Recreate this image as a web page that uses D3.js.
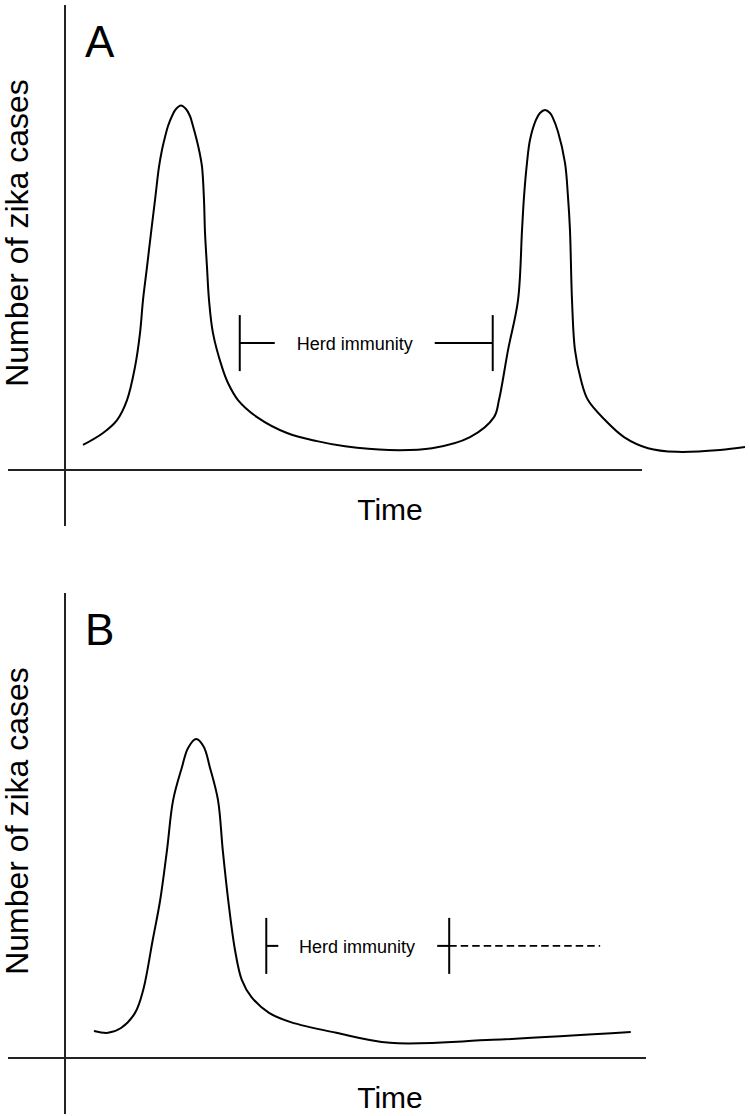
<!DOCTYPE html>
<html>
<head>
<meta charset="utf-8">
<script src="https://cdn.jsdelivr.net/npm/d3@7"></script>
<style>
  html, body { margin: 0; padding: 0; background: #fff; }
  svg { display: block; }
  text { font-family: "Liberation Sans", Arial, sans-serif; fill: #000; }
</style>
</head>
<body>
<script>
// ---- Data (time units 0..100, cases in arbitrary units 0..100) ----
const timeA  = [2.65, 5.59, 7.65, 9.12, 10.29, 11.03, 11.47, 12.06, 12.65, 13.24, 13.82, 14.26, 14.71, 15.15, 15.74, 16.32, 17.06,
                17.79, 18.38, 18.82, 19.26, 19.71, 20.15, 20.44, 20.59, 20.88, 21.18, 21.76, 23.09, 23.97, 25.44, 28.24, 32.65, 37.06,
                41.18, 47.65, 53.97, 59.56, 63.09, 63.82, 65.15, 66.62, 67.21, 67.50, 67.94, 68.38, 69.26, 69.85, 70.59,
                71.32, 71.76, 72.50, 73.53, 73.97, 74.26, 74.56, 75.0, 75.88, 76.91, 79.41, 82.21, 85.74, 90.0, 96.32, 100];
const casesA = [6.76, 10.0, 13.5, 18.9, 27.8, 37.0, 45.9, 54.9, 64.1, 73.0, 81.9, 86.5, 90.0, 92.97, 95.68, 97.57, 98.51,
                97.57, 95.68, 92.97, 90.0, 86.5, 81.9, 73.0, 64.1, 54.9, 45.9, 37.0, 27.8, 23.5, 18.9, 14.3, 10.0, 7.8,
                6.4, 5.4, 5.9, 8.9, 14.3, 18.9, 32.4, 45.9, 64.9, 73.8, 83.0, 89.2, 94.6, 96.5, 97.3,
                96.5, 95.1, 91.4, 83.0, 73.8, 64.9, 45.9, 32.4, 24.3, 18.9, 13.5, 8.9, 5.9, 4.9, 5.4, 6.2];

const timeB  = [4.26, 6.32, 8.24, 10.3, 11.5, 12.9, 14.0, 15.0, 15.9, 17.2, 18.1, 19.3, 20.4, 21.3, 22.5, 23.2, 24.0, 25.0, 26.0, 27.4, 30.0, 33.2, 39.9, 47.8, 62.9, 83.2];
const casesB = [7.3, 6.8, 8.1, 12.2, 18.4, 31.9, 42.7, 56.2, 69.7, 78.6, 83.8, 86.2, 84.1, 78.6, 69.7, 56.2, 42.7, 29.2, 21.1, 16.5, 12.2, 9.7, 6.8, 4.1, 4.9, 7.0];

// Herd immunity annotations: [start, end] in time units, level in case units
const herdA = { span: [25.7, 62.9], level: 34.3, label: "Herd immunity" };
const herdB = { span: [29.6, 56.5], dashedEnd: 78.7, level: 30.3, label: "Herd immunity" };

const panelLabels = ["A", "B"];
const xLabel = "Time";
const yLabel = "Number of zika cases";

// ---- Drawing ----
const W = 750, H = 1116;
const svg = d3.select("body").append("svg").attr("width", W).attr("height", H);
svg.append("rect").attr("width", W).attr("height", H).attr("fill", "#fff");

const x = d3.scaleLinear().domain([0, 100]).range([65, 745]);

function panel(offsetY, times, cases, label, axisEnd) {
  const y = d3.scaleLinear().domain([0, 100]).range([470 + offsetY, 100 + offsetY]);
  const g = svg.append("g");

  // axes
  g.append("line").attr("x1", x(0)).attr("x2", x(0))
    .attr("y1", 5 + offsetY).attr("y2", 526 + offsetY)
    .attr("stroke", "#222").attr("stroke-width", 2);
  g.append("line").attr("x1", 8).attr("x2", axisEnd)
    .attr("y1", y(0)).attr("y2", y(0))
    .attr("stroke", "#222").attr("stroke-width", 2);

  // curve
  const pts = times.map((t, i) => [t, cases[i]]);
  g.append("path").datum(pts)
    .attr("fill", "none").attr("stroke", "#000").attr("stroke-width", 2)
    .attr("stroke-linejoin", "round")
    .attr("d", d3.line().x(d => x(d[0])).y(d => y(d[1])).curve(d3.curveCatmullRom.alpha(0.5)));

  // labels
  g.append("text").attr("x", 85).attr("y", 57 + offsetY)
    .attr("font-size", 44).text(label);
  g.append("text").attr("x", 390).attr("y", 520 + offsetY)
    .attr("text-anchor", "middle").attr("font-size", 30).text(xLabel);
  g.append("text")
    .attr("transform", `translate(28,${233 + offsetY}) rotate(-90)`)
    .attr("text-anchor", "middle").attr("font-size", 32).text(yLabel);
  return { g, y };
}

// Panel A
const pA = panel(0, timeA, casesA, panelLabels[0], 642);
{
  const g = pA.g, y = pA.y, yy = y(herdA.level);
  const x0 = x(herdA.span[0]), x1 = x(herdA.span[1]);
  g.append("line").attr("x1", x0).attr("x2", x0).attr("y1", yy - 28).attr("y2", yy + 28)
    .attr("stroke", "#000").attr("stroke-width", 2);
  g.append("line").attr("x1", x1).attr("x2", x1).attr("y1", yy - 28).attr("y2", yy + 28)
    .attr("stroke", "#000").attr("stroke-width", 2);
  g.append("line").attr("x1", x0).attr("x2", x0 + 35).attr("y1", yy).attr("y2", yy)
    .attr("stroke", "#000").attr("stroke-width", 2);
  g.append("line").attr("x1", x1 - 58).attr("x2", x1).attr("y1", yy).attr("y2", yy)
    .attr("stroke", "#000").attr("stroke-width", 2);
  g.append("text").attr("x", (x0 + 35 + x1 - 58) / 2).attr("y", yy + 7)
    .attr("text-anchor", "middle").attr("font-size", 18).text(herdA.label);
}

// Panel B
const pB = panel(588, timeB, casesB, panelLabels[1], 646);
{
  const g = pB.g, y = pB.y, yy = y(herdB.level);
  const x0 = x(herdB.span[0]), x1 = x(herdB.span[1]), x2 = x(herdB.dashedEnd);
  g.append("line").attr("x1", x0).attr("x2", x0).attr("y1", yy - 28).attr("y2", yy + 28)
    .attr("stroke", "#000").attr("stroke-width", 2);
  g.append("line").attr("x1", x1).attr("x2", x1).attr("y1", yy - 28).attr("y2", yy + 28)
    .attr("stroke", "#000").attr("stroke-width", 2);
  g.append("line").attr("x1", x0).attr("x2", x0 + 12).attr("y1", yy).attr("y2", yy)
    .attr("stroke", "#000").attr("stroke-width", 2);
  g.append("line").attr("x1", x1 - 12).attr("x2", x1).attr("y1", yy).attr("y2", yy)
    .attr("stroke", "#000").attr("stroke-width", 2);
  g.append("line").attr("x1", x1).attr("x2", x2).attr("y1", yy).attr("y2", yy)
    .attr("stroke", "#000").attr("stroke-width", 1.6).attr("stroke-dasharray", "7.5,4");
  g.append("text").attr("x", 357).attr("y", yy + 7)
    .attr("text-anchor", "middle").attr("font-size", 18).text(herdB.label);
}
</script>
</body>
</html>
